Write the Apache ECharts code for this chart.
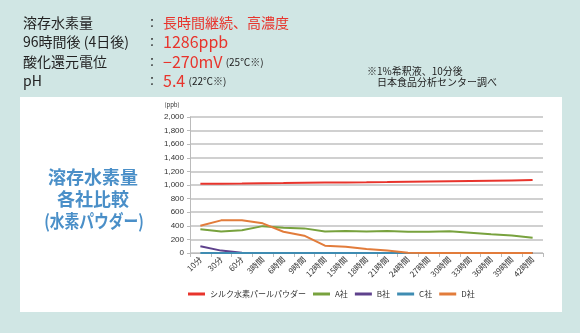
<!DOCTYPE html>
<html><head><meta charset="utf-8">
<script src="https://cdn.jsdelivr.net/npm/echarts@6/dist/echarts.min.js"></script>
<style>html,body{margin:0;padding:0;background:#d0e6e4;}#c{width:580px;height:333px;}</style>
</head><body><div id="c"></div>
<script>
const categories = ['10分','30分','60分','3時間','6時間','9時間','12時間','15時間','18時間','21時間','24時間','27時間','30時間','33時間','36時間','39時間','42時間'];
const silk = [1020,1020,1022,1025,1028,1032,1035,1038,1040,1043,1048,1052,1056,1060,1064,1068,1072];
const compA = [350,315,335,395,370,362,315,322,315,322,312,312,320,298,275,258,225];
const compB = [100,35,5,0,0,0,0,0,0,0,0,0,0,0,0,0,0];
const compC = [0,0,0,0,0,0,0,0,0,0,0,0,0,0,0,0,0];
const compD = [400,480,480,436,313,255,108,93,60,35,5,0,0,0,0,0,0];
const seriesNames = ['シルク水素パールパウダー','A社','B社','C社','D社'];
const yTicks = [0,200,400,600,800,1000,1200,1400,1600,1800,2000];

const colors = ['#e8342c','#78a23e','#5e418c','#3f8cb2','#e27c3b'];
const FONT = '"Noto Sans CJK JP", sans-serif';
const chart = echarts.init(document.getElementById('c'));
const data = [silk, compA, compB, compC, compD];
chart.setOption({
  backgroundColor: '#d0e6e4',
  animation: false,
  textStyle: {fontFamily: FONT},
  graphic: [
    {type:'rect', shape:{x:20,y:97,width:542,height:215}, style:{fill:'#ffffff'}, z:-10},
    {type:'text', x:23, y:23, style:{text:'溶存水素量', font:'14px '+FONT, fill:'#222', verticalAlign:'middle'}},
    {type:'text', x:23, y:42, style:{text:'96時間後 (4日後)', font:'14px '+FONT, fill:'#222', verticalAlign:'middle'}},
    {type:'text', x:23, y:62, style:{text:'酸化還元電位', font:'14px '+FONT, fill:'#222', verticalAlign:'middle'}},
    {type:'text', x:23, y:81, style:{text:'pH', font:'14px '+FONT, fill:'#222', verticalAlign:'middle'}},
    {type:'text', x:146, y:23, style:{text:'：', font:'12px '+FONT, fill:'#222', verticalAlign:'middle'}},
    {type:'text', x:146, y:42, style:{text:'：', font:'12px '+FONT, fill:'#222', verticalAlign:'middle'}},
    {type:'text', x:146, y:62, style:{text:'：', font:'12px '+FONT, fill:'#222', verticalAlign:'middle'}},
    {type:'text', x:146, y:81, style:{text:'：', font:'12px '+FONT, fill:'#222', verticalAlign:'middle'}},
    {type:'text', x:163, y:23, style:{text:'長時間継続、高濃度', font:'14px '+FONT, fill:'#e8342c', verticalAlign:'middle'}},
    {type:'text', x:163, y:42, style:{text:'1286ppb', font:'16px '+FONT, fill:'#e8342c', verticalAlign:'middle'}},
    {type:'text', x:163, y:62, style:{text:'{a|−270mV} {b|(25℃※)}', verticalAlign:'middle',
      rich:{a:{font:'16px '+FONT, fill:'#e8342c'}, b:{font:'10px '+FONT, fill:'#222'}}}},
    {type:'text', x:163, y:81, style:{text:'{a|5.4} {b|(22℃※)}', verticalAlign:'middle',
      rich:{a:{font:'16px '+FONT, fill:'#e8342c'}, b:{font:'10px '+FONT, fill:'#222'}}}},
    {type:'text', x:367, y:71, style:{text:'※1%希釈液、10分後', font:'10px '+FONT, fill:'#222', verticalAlign:'middle'}},
    {type:'text', x:377, y:82, style:{text:'日本食品分析センター調べ', font:'10px '+FONT, fill:'#222', verticalAlign:'middle'}},
    {type:'text', x:93, y:177, style:{text:'溶存水素量', font:'bold 18px '+FONT, fill:'#4a8fc8', align:'center', verticalAlign:'middle'}},
    {type:'text', x:93, y:199, style:{text:'各社比較', font:'bold 18px '+FONT, fill:'#4a8fc8', align:'center', verticalAlign:'middle'}},
    {type:'text', x:94, y:221, scaleX:0.82, originX:0, originY:0, style:{text:'(水素パウダー)', font:'bold 18px '+FONT, fill:'#4a8fc8', align:'center', verticalAlign:'middle'}},
    {type:'text', x:172, y:105, style:{text:'(ppb)', font:'6px '+FONT, fill:'#333', align:'center', verticalAlign:'middle'}}
  ],
  grid: {left:190, right:37, top:117, bottom:80},
  legend: {
    bottom: 30, left: 183, itemWidth: 17, itemHeight: 3, itemGap: 7,
    icon: 'rect',
    textStyle: {fontSize: 8, color: '#333', fontFamily: FONT},
    data: seriesNames
  },
  xAxis: {
    type: 'category', data: categories, boundaryGap: true,
    axisLine: {lineStyle: {color: '#bbbbbb', width: 1}},
    axisTick: {show: true, length: 4, lineStyle: {color: '#bbbbbb'}},
    axisLabel: {rotate: 45, fontSize: 8, color: '#333', margin: 5, interval: 0, fontFamily: FONT}
  },
  yAxis: {
    type: 'value', min: 0, max: 2000, interval: 200,
    axisLine: {show: true, lineStyle: {color: '#bbbbbb'}},
    axisTick: {show: true, length: 3, lineStyle: {color: '#bbbbbb'}},
    axisLabel: {fontSize: 8, color: '#333', margin: 6, fontFamily: 'Liberation Sans, sans-serif',
      formatter: v => yTicks.includes(v) ? v.toLocaleString('en-US') : ''},
    splitLine: {lineStyle: {color: '#d0d0d0', width: 2}}
  },
  series: seriesNames.map((n, i) => ({
    name: n, type: 'line', data: data[i], showSymbol: false, symbol: 'none',
    lineStyle: {color: colors[i], width: 2}, itemStyle: {color: colors[i]}
  }))
});
</script></body></html>
